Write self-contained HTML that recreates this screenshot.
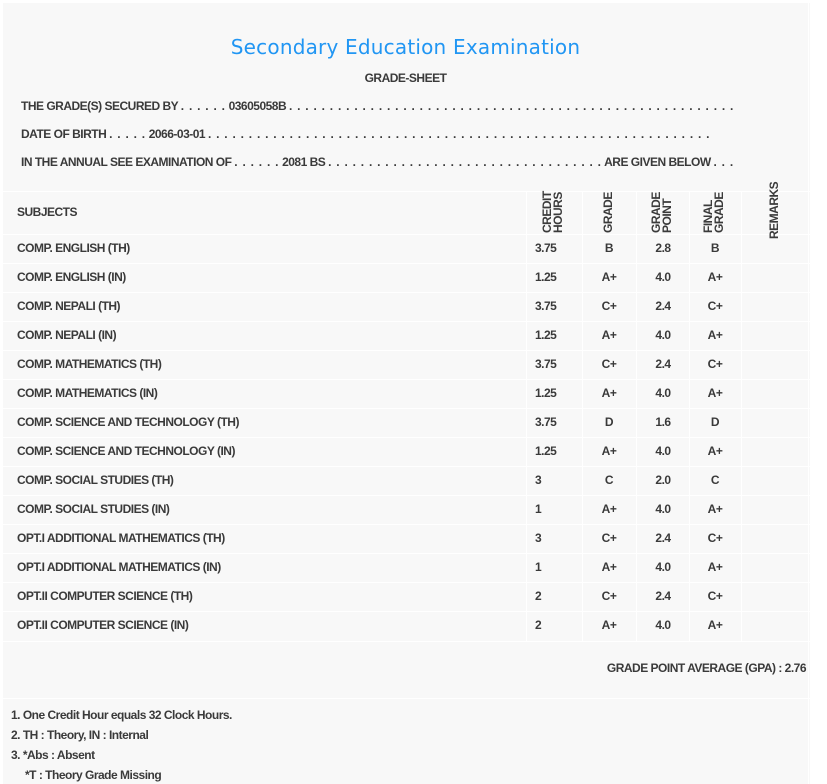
<!DOCTYPE html>
<html><head><meta charset="utf-8"><style>
html,body{margin:0;padding:0;background:#fff;}
body{width:827px;height:784px;position:relative;overflow:hidden;font-family:"Liberation Sans Narrow","Liberation Sans",sans-serif;font-size:12px;font-weight:bold;color:#3a3a3a;letter-spacing:-0.5px;}
.box{position:absolute;background:#f8f8f8;}
.t{position:absolute;white-space:nowrap;line-height:14px;}
.d{letter-spacing:0.75px;}
.hl{position:absolute;height:1px;background:#fff;}
.vl{position:absolute;width:1px;background:#fff;}
.rot{position:absolute;transform:rotate(-90deg);transform-origin:left top;line-height:11px;font-size:12px;white-space:nowrap;}
.c{text-align:center;width:50px;}
</style></head><body>
<div class="box" style="left:3px;top:3px;width:807px;height:781px;"></div>
<div class="t" style="left:0;width:811px;text-align:center;top:34px;font-family:'DejaVu Sans',sans-serif;font-weight:normal;font-size:20px;line-height:26px;color:#2196f3;letter-spacing:0.2px;">Secondary Education Examination</div>
<div class="t" style="left:0;width:811px;text-align:center;top:71px;">GRADE-SHEET</div>
<div class="t" style="left:21px;top:99px;">THE GRADE(S) SECURED BY <span class="d">. . . . . .</span> 03605058B <span class="d">. . . . . . . . . . . . . . . . . . . . . . . . . . . . . . . . . . . . . . . . . . . . . . . . . . . . . . .</span></div>
<div class="t" style="left:21px;top:127px;">DATE OF BIRTH <span class="d">. . . . .</span> 2066-03-01 <span class="d">. . . . . . . . . . . . . . . . . . . . . . . . . . . . . . . . . . . . . . . . . . . . . . . . . . . . . . . . . . . . . .</span></div>
<div class="t" style="left:21px;top:155px;">IN THE ANNUAL SEE EXAMINATION OF <span class="d">. . . . . .</span> 2081 BS <span class="d">. . . . . . . . . . . . . . . . . . . . . . . . . . . . . . . . . .</span> ARE GIVEN BELOW <span class="d">. . .</span></div>
<div class="hl" style="left:3px;width:807px;top:191px;"></div>
<div class="hl" style="left:3px;width:807px;top:234px;"></div>
<div class="vl" style="left:526px;top:191px;height:450px;"></div>
<div class="vl" style="left:582px;top:191px;height:450px;"></div>
<div class="vl" style="left:636px;top:191px;height:450px;"></div>
<div class="vl" style="left:689px;top:191px;height:450px;"></div>
<div class="vl" style="left:741px;top:191px;height:450px;"></div>
<div class="vl" style="left:808px;top:3px;height:781px;"></div>
<div class="t" style="left:17px;top:205px;">SUBJECTS</div>
<div class="rot" style="left:542px;top:233px;">CREDIT<br>HOURS</div>
<div class="rot" style="left:603px;top:233px;">GRADE</div>
<div class="rot" style="left:651px;top:233px;">GRADE<br>POINT</div>
<div class="rot" style="left:703px;top:233px;">FINAL<br>GRADE</div>
<div class="rot" style="left:769px;top:239px;">REMARKS</div>
<div id="rows"></div>
<div class="hl" style="left:3px;width:807px;top:641px;"></div>
<div class="t" style="right:21px;top:661px;">GRADE POINT AVERAGE (GPA) : 2.76</div>
<div class="hl" style="left:3px;width:807px;top:698px;"></div>
<div class="t" style="left:11px;top:708px;">1. One Credit Hour equals 32 Clock Hours.</div>
<div class="t" style="left:11px;top:728px;">2. TH : Theory, IN : Internal</div>
<div class="t" style="left:11px;top:748px;">3. *Abs : Absent</div>
<div class="t" style="left:25px;top:768px;">*T : Theory Grade Missing</div>
<script>
var d=[["COMP. ENGLISH (TH)","3.75","B","2.8","B"],["COMP. ENGLISH (IN)","1.25","A+","4.0","A+"],["COMP. NEPALI (TH)","3.75","C+","2.4","C+"],["COMP. NEPALI (IN)","1.25","A+","4.0","A+"],["COMP. MATHEMATICS (TH)","3.75","C+","2.4","C+"],["COMP. MATHEMATICS (IN)","1.25","A+","4.0","A+"],["COMP. SCIENCE AND TECHNOLOGY (TH)","3.75","D","1.6","D"],["COMP. SCIENCE AND TECHNOLOGY (IN)","1.25","A+","4.0","A+"],["COMP. SOCIAL STUDIES (TH)","3","C","2.0","C"],["COMP. SOCIAL STUDIES (IN)","1","A+","4.0","A+"],["OPT.I ADDITIONAL MATHEMATICS (TH)","3","C+","2.4","C+"],["OPT.I ADDITIONAL MATHEMATICS (IN)","1","A+","4.0","A+"],["OPT.II COMPUTER SCIENCE (TH)","2","C+","2.4","C+"],["OPT.II COMPUTER SCIENCE (IN)","2","A+","4.0","A+"]];
var h="";
d.forEach(function(r,i){var y=234+i*29;
if(i>0)h+='<div class="hl" style="left:3px;width:807px;top:'+y+'px;"></div>';
var ty=y+7;
h+='<div class="t" style="left:17px;top:'+ty+'px;">'+r[0]+'</div>';
h+='<div class="t" style="left:535px;top:'+ty+'px;">'+r[1]+'</div>';
h+='<div class="t c" style="left:584px;top:'+ty+'px;">'+r[2]+'</div>';
h+='<div class="t c" style="left:638px;top:'+ty+'px;">'+r[3]+'</div>';
h+='<div class="t c" style="left:690px;top:'+ty+'px;">'+r[4]+'</div>';
});
document.getElementById("rows").innerHTML=h;
</script>
</body></html>
